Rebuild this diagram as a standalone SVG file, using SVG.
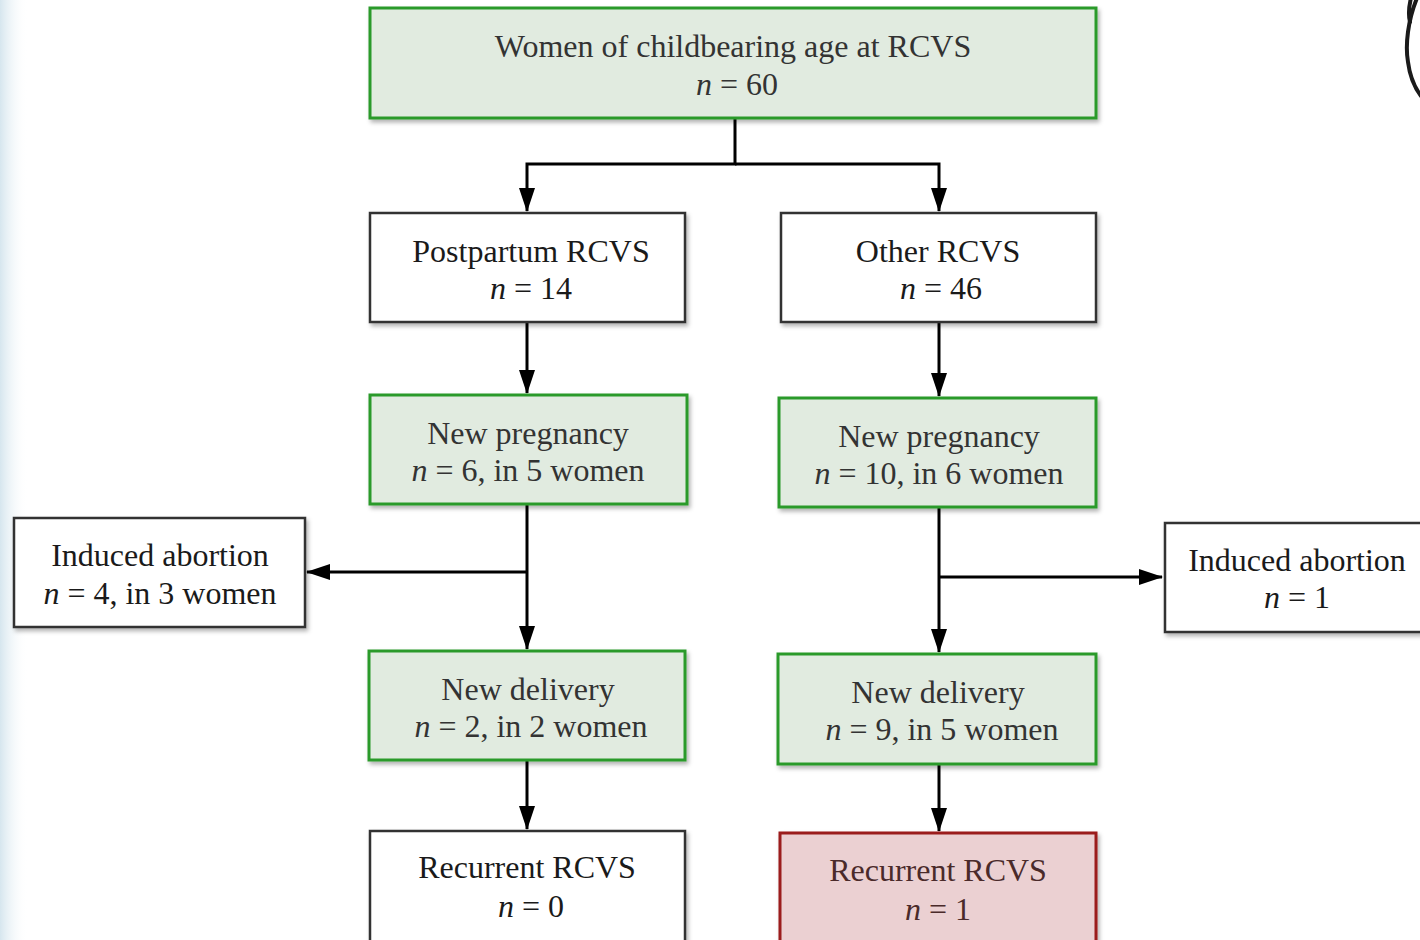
<svg xmlns="http://www.w3.org/2000/svg" width="1420" height="940" viewBox="0 0 1420 940">
<defs>
<style>
.box{stroke-width:2.5}
.white{fill:#ffffff;stroke:#333333}
.green{fill:#e1ebe0;stroke:#2a9a2a;stroke-width:3}
.red{fill:#ebd0d2;stroke:#9b1c1c;stroke-width:3}
.t{font-family:"Liberation Serif","Times New Roman",serif;font-size:32px;text-anchor:middle;fill:#1a1a1a}
.tg{fill:#333333}
.tr{fill:#4a2a2a}
.n{font-style:italic}
.c{fill:none;stroke:#000;stroke-width:3}
</style>
<marker id="ah" viewBox="0 0 24 16" refX="23" refY="8" markerWidth="24" markerHeight="16" markerUnits="userSpaceOnUse" orient="auto">
<path d="M0,0 L24,8 L0,16 Z" fill="#000"/>
</marker>
<filter id="sh" x="-5%" y="-10%" width="112%" height="130%">
<feDropShadow dx="2" dy="3" stdDeviation="2" flood-color="#000" flood-opacity="0.3"/>
</filter>
<linearGradient id="lg" x1="0" y1="0" x2="1" y2="0">
<stop offset="0" stop-color="#d6e6ee"/>
<stop offset="1" stop-color="#ffffff" stop-opacity="0"/>
</linearGradient>
</defs>
<rect width="1420" height="940" fill="#ffffff"/>
<rect x="0" y="0" width="28" height="940" fill="url(#lg)"/>
<g id="corner-mark" fill="none" stroke="#1a1a1a" stroke-width="4" stroke-linecap="round">
<path d="M1417,-2 C1408,20 1405,45 1408,62 C1410,78 1415,88 1421,96"/>
<path d="M1411,-2 C1409,6 1408,14 1410,22"/>
</g>
<g id="connectors" class="c">
<path d="M735,118 V164 H527 V211" marker-end="url(#ah)"/>
<path d="M735,164 H939 V211" marker-end="url(#ah)"/>
<path d="M527,322 V393" marker-end="url(#ah)"/>
<path d="M939,322 V396" marker-end="url(#ah)"/>
<path d="M527,504 V649" marker-end="url(#ah)"/>
<path d="M527,572 H307" marker-end="url(#ah)"/>
<path d="M939,507 V652" marker-end="url(#ah)"/>
<path d="M939,577 H1162" marker-end="url(#ah)"/>
<path d="M527,760 V829" marker-end="url(#ah)"/>
<path d="M939,764 V831" marker-end="url(#ah)"/>
</g>
<g id="n-top"><rect class="box green" filter="url(#sh)" x="370" y="8" width="726" height="110"/><text class="t tg" x="733" y="57">Women of childbearing age at RCVS</text><text class="t tg" x="737" y="95"><tspan class="n">n</tspan> = 60</text></g>
<g id="n-postpartum"><rect class="box white" filter="url(#sh)" x="370" y="213" width="315" height="109"/><text class="t" x="531" y="262">Postpartum RCVS</text><text class="t" x="531" y="299"><tspan class="n">n</tspan> = 14</text></g>
<g id="n-other"><rect class="box white" filter="url(#sh)" x="781" y="213" width="315" height="109"/><text class="t" x="938" y="262">Other RCVS</text><text class="t" x="941" y="299"><tspan class="n">n</tspan> = 46</text></g>
<g id="n-preg-left"><rect class="box green" filter="url(#sh)" x="370" y="395" width="317" height="109"/><text class="t tg" x="528" y="444">New pregnancy</text><text class="t tg" x="528" y="481"><tspan class="n">n</tspan> = 6, in 5 women</text></g>
<g id="n-preg-right"><rect class="box green" filter="url(#sh)" x="779" y="398" width="317" height="109"/><text class="t tg" x="939" y="447">New pregnancy</text><text class="t tg" x="939" y="484"><tspan class="n">n</tspan> = 10, in 6 women</text></g>
<g id="n-abort-left"><rect class="box white" filter="url(#sh)" x="14" y="518" width="291" height="109"/><text class="t" x="160" y="566">Induced abortion</text><text class="t" x="160" y="604"><tspan class="n">n</tspan> = 4, in 3 women</text></g>
<g id="n-abort-right"><rect class="box white" filter="url(#sh)" x="1165" y="523" width="262" height="109"/><text class="t" x="1297" y="571">Induced abortion</text><text class="t" x="1297" y="608"><tspan class="n">n</tspan> = 1</text></g>
<g id="n-deliv-left"><rect class="box green" filter="url(#sh)" x="369" y="651" width="316" height="109"/><text class="t tg" x="528" y="700">New delivery</text><text class="t tg" x="531" y="737"><tspan class="n">n</tspan> = 2, in 2 women</text></g>
<g id="n-deliv-right"><rect class="box green" filter="url(#sh)" x="778" y="654" width="318" height="110"/><text class="t tg" x="938" y="703">New delivery</text><text class="t tg" x="942" y="740"><tspan class="n">n</tspan> = 9, in 5 women</text></g>
<g id="n-rec-left"><rect class="box white" filter="url(#sh)" x="370" y="831" width="315" height="120"/><text class="t" x="527" y="878">Recurrent RCVS</text><text class="t" x="531" y="917"><tspan class="n">n</tspan> = 0</text></g>
<g id="n-rec-right"><rect class="box red" filter="url(#sh)" x="780" y="833" width="316" height="120"/><text class="t tr" x="938" y="881">Recurrent RCVS</text><text class="t tr" x="938" y="920"><tspan class="n">n</tspan> = 1</text></g>
</svg>
